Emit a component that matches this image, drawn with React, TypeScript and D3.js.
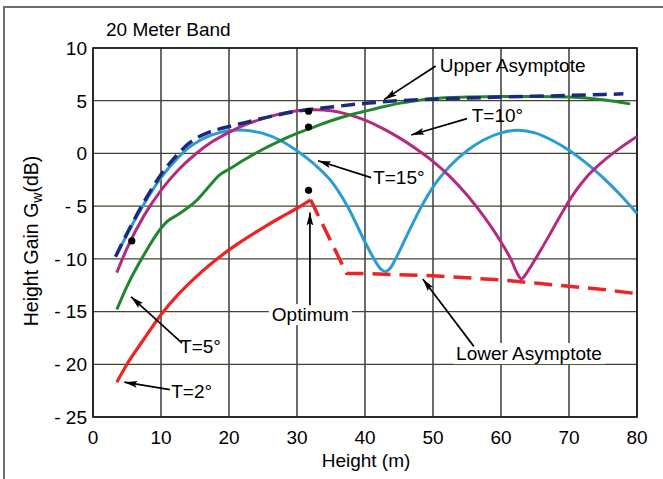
import React, { useEffect, useRef } from "react";
import * as d3 from "d3";

// Height gain curves: [height (m), gain (dB)]
const upperAsymptote: [number, number][] = [
  [3.3, -9.8], [5, -7.6], [7.5, -4.6], [10, -2.0], [12.5, -0.05], [14, 0.9],
  [15.5, 1.55], [17, 2.0], [18.5, 2.3], [20, 2.55], [22.5, 2.95], [25, 3.35],
  [27.5, 3.7], [30, 4.0], [35, 4.4], [40, 4.75], [45, 5.0], [50, 5.15],
  [55, 5.25], [60, 5.35], [70, 5.5], [78, 5.65],
];

const t15: [number, number][] = [
  [3.5, -9.6], [5, -7.7], [7.5, -4.8], [10, -2.3], [12.5, -0.4], [14, 0.5],
  [15.5, 1.15], [17, 1.65], [18.5, 1.95], [20, 2.15], [21.5, 2.22], [23, 2.15],
  [25, 1.9], [27.5, 1.25], [30, 0.25], [32.5, -1.0], [35, -2.6], [37.5, -5.1],
  [40, -8.4], [41.5, -10.2], [42.3, -10.95], [43, -11.2], [43.7, -10.9],
  [44.5, -10.0], [46, -8.0], [48, -5.4], [50, -3.2], [52.5, -1.2], [55, 0.25],
  [57.5, 1.3], [60, 1.95], [62.5, 2.2], [65, 1.95], [67.5, 1.25], [70, 0.3],
  [72.5, -0.9], [75, -2.3], [77.5, -3.9], [80, -5.7],
];

const t10: [number, number][] = [
  [3.5, -11.3], [5, -9.0], [7.5, -5.9], [10, -3.5], [12.5, -1.6], [15, -0.1],
  [17.5, 1.1], [20, 2.0], [22.5, 2.75], [25, 3.3], [27.5, 3.75], [30, 4.05],
  [32.5, 4.15], [35, 4.05], [37.5, 3.7], [40, 3.15], [42.5, 2.4], [45, 1.5],
  [47.5, 0.45], [50, -0.75], [52.5, -2.2], [55, -3.95], [57.5, -6.0],
  [60, -8.4], [61.5, -10.1], [62.4, -11.4], [63, -11.9], [63.6, -11.5],
  [64.5, -10.6], [66, -9.0], [67.5, -7.3], [69, -5.6], [70.5, -4.0],
  [72.5, -2.3], [75, -0.75], [77.5, 0.5], [80, 1.6],
];

const t5: [number, number][] = [
  [3.5, -14.8], [5, -12.6], [7.5, -9.6], [10, -7.1], [11, -6.4], [12.5, -5.8],
  [15, -4.6], [17.5, -2.8], [18.5, -2.1], [20, -1.5], [22.5, -0.5], [25, 0.4],
  [27.5, 1.2], [30, 1.9], [32.5, 2.5], [35, 3.1], [37.5, 3.6], [40, 4.0],
  [42.5, 4.4], [45, 4.75], [47.5, 5.0], [50, 5.2], [55, 5.35], [60, 5.4],
  [65, 5.4], [70, 5.35], [75, 5.1], [79, 4.7],
];

const t2: [number, number][] = [
  [3.5, -21.7], [5, -20.0], [7.5, -17.6], [10, -15.3], [12.5, -13.4],
  [15, -11.8], [17.5, -10.4], [20, -9.15], [22.5, -8.05], [25, -7.05],
  [27.5, -6.1], [30, -5.2], [32, -4.4],
];

const lowerAsymptote: [number, number][] = [
  [32, -4.4], [37.3, -11.4], [40, -11.4], [45, -11.5], [50, -11.6],
  [55, -11.8], [60, -12.0], [65, -12.3], [70, -12.6], [75, -12.9], [80, -13.3],
];

// optimum points
const optimumDots: [number, number][] = [
  [31.7, 4.0], [31.7, 2.5], [31.7, -3.5], [5.7, -8.3],
];

const xTicks = [0, 10, 20, 30, 40, 50, 60, 70, 80];
const yTicks = [10, 5, 0, -5, -10, -15, -20, -25];

// text label + arrow (from -> to), in data units
const callouts = [
  { text: "Upper Asymptote", at: [51.0, 7.7], from: [50.4, 8.3], to: [42.8, 5.1], bg: false },
  { text: "T=10°", at: [55.7, 3.0], from: [55.0, 3.3], to: [46.8, 1.75], bg: false },
  { text: "T=15°", at: [41.2, -2.9], from: [40.9, -2.3], to: [33.1, -0.7], bg: false },
  { text: "Optimum", at: [26.3, -15.9], from: [31.9, -14.4], to: [31.9, -5.6], bg: true },
  { text: "Lower Asymptote", at: [53.4, -19.6], from: [56.0, -18.3], to: [48.5, -11.9], bg: true },
  { text: "T=5°", at: [12.8, -18.9], from: [13.1, -18.0], to: [5.6, -13.6], bg: false },
  { text: "T=2°", at: [11.5, -23.2], from: [11.3, -22.4], to: [4.6, -21.7], bg: false },
];

const FONT = "'Liberation Sans', Arial, Helvetica, sans-serif";

const App = () => {
  const svgRef = useRef<SVGSVGElement>(null);

  useEffect(() => {
    const width = 663;
    const height = 479;
    const svg = d3.select(svgRef.current);
    svg.selectAll("*").remove();
    svg.attr("width", width).attr("height", height);

    const x = d3.scaleLinear().domain([0, 80]).range([93, 637]);
    const y = d3.scaleLinear().domain([-25, 10]).range([417, 48]);

    svg.append("rect").attr("width", width).attr("height", height).attr("fill", "#fff");

    // outer frame (top + left only, image is cropped)
    svg
      .append("path")
      .attr("d", `M4,${height} L4,7 L${width},7`)
      .attr("fill", "none")
      .attr("stroke", "#6e6e6e")
      .attr("stroke-width", 2);

    const defs = svg.append("defs");
    defs
      .append("marker")
      .attr("id", "arrow")
      .attr("viewBox", "0 0 13 8")
      .attr("refX", 13)
      .attr("refY", 4)
      .attr("markerWidth", 13)
      .attr("markerHeight", 8)
      .attr("markerUnits", "userSpaceOnUse")
      .attr("orient", "auto")
      .append("path")
      .attr("d", "M0,0.6 L13,4 L0,7.4 L2.5,4 Z")
      .attr("fill", "#000");

    // grid
    const grid = svg.append("g");
    grid
      .selectAll("line.v")
      .data(xTicks)
      .join("line")
      .attr("x1", (d) => x(d))
      .attr("x2", (d) => x(d))
      .attr("y1", y(10))
      .attr("y2", y(-25))
      .attr("stroke", "#1e1e1e")
      .attr("stroke-width", 1.3);
    grid
      .selectAll("line.h")
      .data(yTicks)
      .join("line")
      .attr("x1", x(0))
      .attr("x2", x(80))
      .attr("y1", (d) => y(d))
      .attr("y2", (d) => y(d))
      .attr("stroke", "#45452f")
      .attr("stroke-width", 1.3);

    // frame
    svg
      .append("rect")
      .attr("x", x(0))
      .attr("y", y(10))
      .attr("width", x(80) - x(0))
      .attr("height", y(-25) - y(10))
      .attr("fill", "none")
      .attr("stroke", "#1a1a1a")
      .attr("stroke-width", 1.6);

    // tick labels
    svg
      .append("g")
      .selectAll("text")
      .data(xTicks)
      .join("text")
      .attr("x", (d) => x(d))
      .attr("y", 444)
      .attr("text-anchor", "middle")
      .attr("font-family", FONT)
      .attr("font-size", 19)
      .text((d) => d);
    svg
      .append("g")
      .selectAll("text")
      .data(yTicks)
      .join("text")
      .attr("x", 87)
      .attr("y", (d) => y(d))
      .attr("dy", "0.36em")
      .attr("text-anchor", "end")
      .attr("font-family", FONT)
      .attr("font-size", 19)
      .text((d) => (d < 0 ? `- ${-d}` : `${d}`));

    // axis titles
    svg
      .append("text")
      .attr("x", 366)
      .attr("y", 467)
      .attr("text-anchor", "middle")
      .attr("font-family", FONT)
      .attr("font-size", 19)
      .text("Height (m)");

    const yTitle = svg
      .append("text")
      .attr("transform", `translate(38,${241}) rotate(-90)`)
      .attr("text-anchor", "middle")
      .attr("font-family", FONT)
      .attr("font-size", 19.5);
    yTitle.append("tspan").text("Height Gain G");
    yTitle.append("tspan").attr("font-size", 14).attr("dy", 4).text("w");
    yTitle.append("tspan").attr("dy", -4).text("(dB)");

    svg
      .append("text")
      .attr("x", 106)
      .attr("y", 36)
      .attr("font-family", FONT)
      .attr("font-size", 19)
      .text("20 Meter Band");

    // curves
    const line = d3
      .line<[number, number]>()
      .x((d) => x(d[0]))
      .y((d) => y(d[1]))
      .curve(d3.curveMonotoneX);
    const straight = d3
      .line<[number, number]>()
      .x((d) => x(d[0]))
      .y((d) => y(d[1]));

    const series = [
      { data: t15, color: "#2b9bd3", w: 3, dash: null, gen: line },
      { data: t10, color: "#b42a80", w: 3, dash: null, gen: line },
      { data: t5, color: "#22862c", w: 3, dash: null, gen: line },
      { data: t2, color: "#ec2424", w: 3.2, dash: null, gen: line },
      { data: lowerAsymptote, color: "#ec2424", w: 3.5, dash: "18,9", gen: straight },
      { data: upperAsymptote, color: "#1b2a7e", w: 3.5, dash: "14,7", gen: line },
    ];

    svg
      .append("g")
      .selectAll("path")
      .data(series)
      .join("path")
      .attr("d", (s) => s.gen(s.data))
      .attr("fill", "none")
      .attr("stroke", (s) => s.color)
      .attr("stroke-width", (s) => s.w)
      .attr("stroke-dasharray", (s) => s.dash)
      .attr("stroke-linejoin", "round");

    svg
      .append("g")
      .selectAll("circle")
      .data(optimumDots)
      .join("circle")
      .attr("cx", (d) => x(d[0]))
      .attr("cy", (d) => y(d[1]))
      .attr("r", 3.6)
      .attr("fill", "#000");

    // callouts
    const notes = svg.append("g").attr("font-family", FONT).attr("font-size", 19);
    callouts.forEach((c) => {
      const t = notes
        .append("text")
        .attr("x", x(c.at[0]))
        .attr("y", y(c.at[1]))
        .text(c.text);
      if (c.bg) {
        const bb = (t.node() as SVGTextElement).getBBox();
        notes
          .insert("rect", () => t.node())
          .attr("x", bb.x - 3)
          .attr("y", bb.y)
          .attr("width", bb.width + 6)
          .attr("height", bb.height)
          .attr("fill", "#fff");
      }
      notes
        .append("line")
        .attr("x1", x(c.from[0]))
        .attr("y1", y(c.from[1]))
        .attr("x2", x(c.to[0]))
        .attr("y2", y(c.to[1]))
        .attr("stroke", "#000")
        .attr("stroke-width", 1.7)
        .attr("marker-end", "url(#arrow)");
    });
  }, []);

  return (
    <div style={{ position: "absolute", left: 0, top: 0 }}>
      <svg ref={svgRef} style={{ display: "block" }} />
    </div>
  );
};

export default App;
